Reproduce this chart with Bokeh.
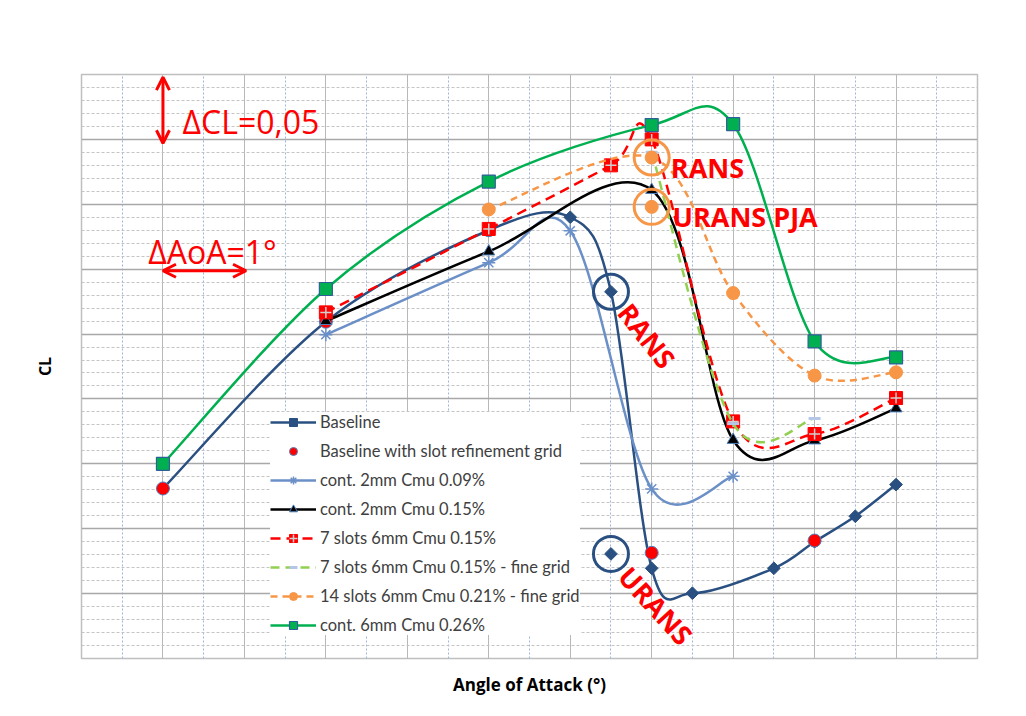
import numpy as np
from bokeh.plotting import figure
from bokeh.models import (Range1d, SingleIntervalTicker, Legend, LegendItem, Arrow,
                          OpenHead, Label, Title, ColumnDataSource)
from bokeh.embed import file_html
from bokeh.resources import INLINE

# ---------------- data (AoA relative, degrees ; CL relative) ----------------
aoa_baseline = [1, 3, 5, 6, 6.5, 7, 7.5, 8.5, 9, 9.5, 10]
cl_baseline = [0.131, 0.2595, 0.330, 0.340, 0.2826, 0.0695, 0.0503, 0.0695, 0.090, 0.1096, 0.134]

aoa_refined = [1, 3, 5, 7, 9]
cl_refined = [0.131, 0.2595, 0.330, 0.0814, 0.0909]

aoa_c2_009 = [3, 5, 6, 7, 8]
cl_c2_009 = [0.2495, 0.305, 0.3296, 0.1307, 0.1404]

aoa_c2_015 = [3, 5, 7, 8, 9, 10]
cl_c2_015 = [0.260, 0.3136, 0.361, 0.1684, 0.168, 0.1927]

aoa_7s = [3, 5, 6.5, 7, 8, 9, 10]
cl_7s = [0.2667, 0.331, 0.380, 0.400, 0.1827, 0.173, 0.2007]

aoa_7s_fine = [7, 8, 9]
cl_7s_fine = [0.390, 0.181, 0.185]

aoa_14s = [5, 7, 8, 9, 10]
cl_14s = [0.346, 0.386, 0.2816, 0.218, 0.2205]

aoa_c6 = [1, 3, 5, 7, 8, 9, 10]
cl_c6 = [0.150, 0.2847, 0.3675, 0.411, 0.4117, 0.2443, 0.232]

# isolated points (URANS baseline, URANS PJA)
aoa_urans_base = [6.5]
cl_urans_base = [0.0806]
aoa_pja = [7]
cl_pja = [0.348]

labels = ["Baseline", "Baseline with slot refinement grid", "cont. 2mm Cmu 0.09%",
          "cont. 2mm Cmu 0.15%", "7 slots 6mm Cmu 0.15%", "7 slots 6mm Cmu 0.15% - fine grid",
          "14 slots 6mm Cmu 0.21% - fine grid", "cont. 6mm Cmu 0.26%"]


def smooth_segments(xs, ys):
    """Excel-like smoothed line: cubic Bezier segments through the data points."""
    x = np.asarray(xs, float)
    y = np.asarray(ys, float)
    xp = np.concatenate([[x[0]], x, [x[-1]]])
    yp = np.concatenate([[y[0]], y, [y[-1]]])
    i = np.arange(len(x) - 1) + 1
    return ColumnDataSource(dict(
        x0=xp[i], y0=yp[i], x1=xp[i + 1], y1=yp[i + 1],
        cx0=xp[i] + (xp[i + 1] - xp[i - 1]) / 6, cy0=yp[i] + (yp[i + 1] - yp[i - 1]) / 6,
        cx1=xp[i + 1] - (xp[i + 2] - xp[i]) / 6, cy1=yp[i + 1] - (yp[i + 2] - yp[i]) / 6,
    ))


p = figure(width=1018, height=708, output_backend="svg", toolbar_location=None,
           x_range=Range1d(0, 11), y_range=Range1d(0, 0.45),
           min_border_left=81, min_border_right=41, min_border_top=74, min_border_bottom=50)
p.background_fill_color = "white"
p.border_fill_color = "white"
p.outline_line_color = "#BFBFBF"
p.outline_line_width = 1.5

p.xaxis.visible = False
p.yaxis.visible = False
p.xgrid.ticker = SingleIntervalTicker(interval=1, num_minor_ticks=2)
p.ygrid.ticker = SingleIntervalTicker(interval=0.05, num_minor_ticks=5)

p.xgrid.grid_line_color = "#B8B8B8"
p.xgrid.grid_line_width = 1
p.xgrid.minor_grid_line_color = "#9DB5E0"
p.xgrid.minor_grid_line_dash = "2 2"
p.ygrid.grid_line_color = "#A8A8A8"
p.ygrid.grid_line_width = 1.3
p.ygrid.minor_grid_line_color = "#C4C4C4"
p.ygrid.minor_grid_line_dash = "3 2"

# axis titles (the reference chart has no tick labels)
p.add_layout(Title(text="Angle of Attack (°)", align="center", text_font="Open Sans",
                   text_font_style="bold", text_font_size="17px", text_color="#000000",
                   standoff=25), "below")
p.add_layout(Title(text="CL", align="center", text_font="Open Sans",
                   text_font_style="bold", text_font_size="16px", text_color="#000000",
                   standoff=51), "left")

C_BASE = "#2A5082"
C_LBLUE = "#6B8FC7"
C_RED = "#FF0000"
C_ORANGE = "#F79646"
C_LGREEN = "#92D050"
C_GREEN = "#00B050"
C_OUT = "#4F81BD"
LW = 2.5
BZ = dict(x0="x0", y0="y0", x1="x1", y1="y1", cx0="cx0", cy0="cy0", cx1="cx1", cy1="cy1")

# Baseline
r_base_l = p.bezier(source=smooth_segments(aoa_baseline, cl_baseline), line_color=C_BASE, line_width=LW, **BZ)
r_base_m = p.scatter(aoa_baseline, cl_baseline, marker="square", angle=0.785, size=9,
                     fill_color=C_BASE, line_color=C_BASE)
# Baseline refined
r_ref_m = p.scatter(aoa_refined, cl_refined, marker="circle", size=13, fill_color=C_RED,
                    line_color=C_OUT, line_width=1)
# cont 2mm 0.09
r_c2a_l = p.bezier(source=smooth_segments(aoa_c2_009, cl_c2_009), line_color=C_LBLUE, line_width=LW, **BZ)
r_c2a_m = p.scatter(aoa_c2_009, cl_c2_009, marker="asterisk", size=13, line_color=C_LBLUE, line_width=1.5)
# cont 2mm 0.15
r_c2b_l = p.bezier(source=smooth_segments(aoa_c2_015, cl_c2_015), line_color="#000000", line_width=LW, **BZ)
r_c2b_m = p.scatter(aoa_c2_015, cl_c2_015, marker="triangle", size=12, fill_color="#000000",
                    line_color=C_OUT, line_width=1)
# 7 slots
r_7s_l = p.bezier(source=smooth_segments(aoa_7s, cl_7s), line_color=C_RED, line_width=LW,
                  line_dash="10 6", **BZ)
r_7s_m = p.scatter(aoa_7s, cl_7s, marker="square", size=13, fill_color=C_RED, line_color=C_RED)
r_7s_c = p.scatter(aoa_7s, cl_7s, marker="cross", size=11, line_color="#D0D0D0", line_width=1.5)
# 7 slots fine
r_7sf_l = p.bezier(source=smooth_segments(aoa_7s_fine, cl_7s_fine), line_color=C_LGREEN, line_width=LW,
                   line_dash="9 6", **BZ)
r_7sf_m = p.scatter(aoa_7s_fine, cl_7s_fine, marker="dash", size=12, line_color="#B4C7E7", line_width=3)
# 14 slots
r_14_l = p.bezier(source=smooth_segments(aoa_14s, cl_14s), line_color=C_ORANGE, line_width=LW,
                  line_dash="7 5", **BZ)
r_14_m = p.scatter(aoa_14s, cl_14s, marker="circle", size=13, fill_color=C_ORANGE, line_color=C_ORANGE)
# cont 6mm
r_c6_l = p.bezier(source=smooth_segments(aoa_c6, cl_c6), line_color=C_GREEN, line_width=LW, **BZ)
r_c6_m = p.scatter(aoa_c6, cl_c6, marker="square", size=13, fill_color=C_GREEN, line_color="#2F5F98",
                   line_width=1.2)

# isolated URANS points
p.scatter(aoa_urans_base, cl_urans_base, marker="square", angle=0.785, size=9,
          fill_color=C_BASE, line_color=C_BASE)
p.scatter(aoa_pja, cl_pja, marker="circle", size=13, fill_color=C_ORANGE, line_color=C_ORANGE)

# rings around highlighted points
p.scatter([aoa_baseline[4], aoa_urans_base[0]], [cl_baseline[4], cl_urans_base[0]], marker="circle",
          size=35, fill_alpha=0, line_color=C_BASE, line_width=3)
p.scatter([aoa_14s[1], aoa_pja[0]], [cl_14s[1], cl_pja[0]], marker="circle",
          size=35, fill_alpha=0, line_color=C_ORANGE, line_width=3)

# scale arrows and annotation texts
p.add_layout(Arrow(x_start=1, y_start=0.397, x_end=1, y_end=0.448, line_color=C_RED, line_width=3,
                   start=OpenHead(size=13, line_color=C_RED, line_width=3),
                   end=OpenHead(size=13, line_color=C_RED, line_width=3)))
p.add_layout(Arrow(x_start=1, y_start=0.2988, x_end=2.02, y_end=0.2988, line_color=C_RED, line_width=3,
                   start=OpenHead(size=13, line_color=C_RED, line_width=3),
                   end=OpenHead(size=13, line_color=C_RED, line_width=3)))

txt = dict(text_font="Open Sans", text_color=C_RED)
p.add_layout(Label(x=1.24, y=0.4135, text="ΔCL=0,05", text_font_size="32px",
                   text_baseline="alphabetic", **txt))
p.add_layout(Label(x=0.818, y=0.3136, text="ΔAoA=1°", text_font_size="32px",
                   text_baseline="alphabetic", **txt))
p.add_layout(Label(x=7.235, y=0.3785, text="RANS", text_font_size="27px", text_font_style="bold",
                   text_baseline="alphabetic", **txt))
p.add_layout(Label(x=7.256, y=0.3403, text="URANS PJA", text_font_size="27px", text_font_style="bold",
                   text_baseline="alphabetic", **txt))
p.add_layout(Label(x=6.94, y=0.2487, text="RANS", text_font_size="27px", text_font_style="bold",
                   text_align="center", text_baseline="middle", angle=-0.907, **txt))
p.add_layout(Label(x=7.05, y=0.0408, text="URANS", text_font_size="27px", text_font_style="bold",
                   text_align="center", text_baseline="middle", angle=-0.83, **txt))

legend = Legend(items=[
    LegendItem(label=labels[0], renderers=[r_base_l, r_base_m]),
    LegendItem(label=labels[1], renderers=[r_ref_m]),
    LegendItem(label=labels[2], renderers=[r_c2a_l, r_c2a_m]),
    LegendItem(label=labels[3], renderers=[r_c2b_l, r_c2b_m]),
    LegendItem(label=labels[4], renderers=[r_7s_l, r_7s_m, r_7s_c]),
    LegendItem(label=labels[5], renderers=[r_7sf_l, r_7sf_m]),
    LegendItem(label=labels[6], renderers=[r_14_l, r_14_m]),
    LegendItem(label=labels[7], renderers=[r_c6_l, r_c6_m]),
], location=(189, 23), glyph_width=46, glyph_height=20, label_height=20, label_standoff=4,
    padding=8, spacing=9, margin=0, background_fill_color="white", background_fill_alpha=1,
    border_line_color=None, label_text_font="Lato", label_text_font_size="16.5px",
    label_text_color="#404040")
p.add_layout(legend)

open("out.html", "w").write(file_html(p, INLINE))
